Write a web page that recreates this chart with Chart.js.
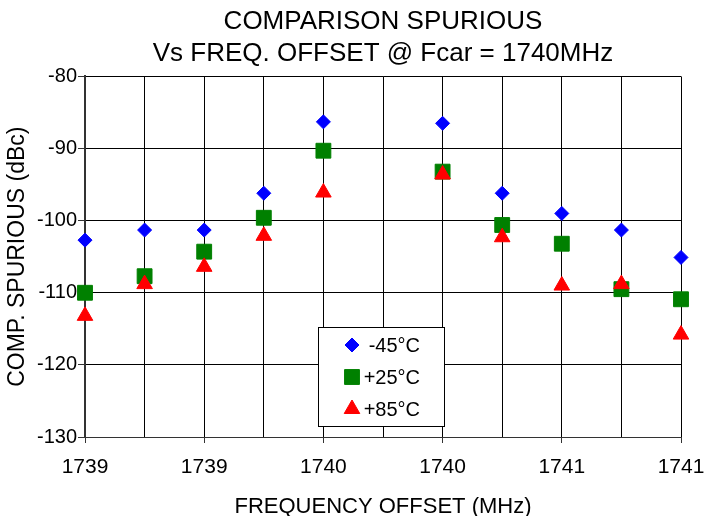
<!DOCTYPE html>
<html>
<head>
<meta charset="utf-8">
<script src="https://cdn.jsdelivr.net/npm/chart.js@4.4.1/dist/chart.umd.min.js"></script>
<style>
  body { margin: 0; background: #fff; }
  canvas { display: block; }
</style>
</head>
<body>
<canvas id="spurious-chart" width="705" height="516"></canvas>
<script>
/**************************************************************
                     COMPARISON SPURIOUS CHART
***************************************************************/
// no point at the carrier itself (1740.0)
let freqOffsets = [1739.0, 1739.2, 1739.4, 1739.6, 1739.8, 1740.2, 1740.4, 1740.6, 1740.8, 1741.0]
let spurMinus45 = [-102.7, -101.3, -101.3, -96.2, -86.3, -86.5, -96.2, -99.0, -101.3, -105.1]
let spurPlus25 = [-110.0, -107.7, -104.3, -99.6, -90.3, -93.2, -100.6, -103.2, -109.5, -110.9]
let spurPlus85 = [-113.2, -108.8, -106.4, -102.1, -96.1, -93.6, -102.3, -109.0, -108.8, -115.8]
let xTickLabels = ['1739', '1739', '1740', '1740', '1741', '1741']
let seriesLabels = ['-45°C', '+25°C', '+85°C']
let seriesColors = ['#0000ff', '#008000', '#ff0000']
let seriesStyles = ['rectRot', 'rect', 'triangle']
let seriesRadius = [7, 10.5, 9]

let dataPoints = [spurMinus45, spurPlus25, spurPlus85].map(function (series) {
    return series.map(function (v, i) { return { x: freqOffsets[i], y: v } })
})

let fontFamily = '"Liberation Sans", Arial, Helvetica, sans-serif'

/*** legend box drawn inside the plot area ***/
let insideLegend = {
    id: 'insideLegend',
    afterDraw: function (chart) {
        let ctx = chart.ctx
        let left = 318, top = 327, w = 126, h = 99
        ctx.save()
        ctx.fillStyle = '#fff'
        ctx.fillRect(left, top, w, h)
        ctx.strokeStyle = '#000'
        ctx.lineWidth = 1
        ctx.strokeRect(left + 0.5, top + 0.5, w, h)
        ctx.font = '20px ' + fontFamily
        ctx.textAlign = 'right'
        ctx.textBaseline = 'middle'
        chart.data.datasets.forEach(function (ds, i) {
            let rowY = top + 18 + i * 32
            ctx.fillStyle = ds.backgroundColor
            ctx.strokeStyle = ds.borderColor
            Chart.helpers.drawPoint(ctx, { pointStyle: ds.pointStyle, radius: ds.pointRadius, borderWidth: 1, rotation: 0 }, left + 34, rowY)
            ctx.fillStyle = '#000'
            ctx.fillText(ds.label, left + 102, rowY + 1)
        })
        ctx.restore()
    }
}

let spuriousChartCanvas = document.getElementById('spurious-chart').getContext('2d')
let spuriousChartConfig = {
    type: 'scatter',
    data: {
        datasets: seriesLabels.map(function (label, i) {
            return {
                label: label,
                data: dataPoints[i],
                // later series are painted over earlier ones
                order: seriesLabels.length - i,
                clip: false,
                pointStyle: seriesStyles[i],
                pointRadius: seriesRadius[i],
                pointHoverRadius: seriesRadius[i],
                backgroundColor: seriesColors[i],
                borderColor: seriesColors[i],
                borderWidth: 1,
                showLine: false
            }
        })
    },
    options: {
        responsive: false,
        animation: false,
        devicePixelRatio: 1,
        events: [],
        layout: { padding: { left: 0, right: 24, top: 0, bottom: 0 } },
        plugins: {
            legend: { display: false },
            tooltip: { enabled: false },
            title: {
                display: true,
                fullSize: false,
                text: ['COMPARISON SPURIOUS', 'Vs FREQ. OFFSET @ Fcar = 1740MHz'],
                color: '#000',
                font: { family: fontFamily, size: 26, weight: 'normal', lineHeight: 1.22 },
                padding: { top: 6, bottom: 7 }
            }
        },
        scales: {
            x: {
                type: 'linear',
                min: 1739,
                max: 1741,
                afterFit: function (scale) {
                    scale.height = 79
                    scale.paddingLeft = 0
                    scale.paddingRight = 0
                },
                ticks: {
                    stepSize: 0.2,
                    autoSkip: false,
                    maxRotation: 0,
                    padding: 12,
                    color: '#000',
                    font: { family: fontFamily, size: 21 },
                    callback: function (value, index) {
                        return index % 2 ? '' : xTickLabels[index / 2]
                    }
                },
                grid: {
                    color: '#000',
                    lineWidth: 1,
                    tickLength: 6,
                    tickColor: function (ctx) { return ctx.index % 2 ? 'rgba(0,0,0,0)' : '#333' }
                },
                border: { color: '#333', width: 1 },
                title: {
                    display: true,
                    text: 'FREQUENCY OFFSET (MHz)',
                    color: '#000',
                    font: { family: fontFamily, size: 22, lineHeight: 0.8 },
                    padding: { top: 0, bottom: 0 }
                }
            },
            y: {
                min: -130,
                max: -80,
                afterFit: function (scale) { scale.width = 85 },
                ticks: {
                    stepSize: 10,
                    padding: 1,
                    color: '#000',
                    font: { family: fontFamily, size: 20 }
                },
                grid: {
                    color: '#000',
                    lineWidth: 1,
                    tickLength: 7,
                    tickColor: '#333'
                },
                border: { color: '#333', width: 2 },
                title: {
                    display: true,
                    text: 'COMP. SPURIOUS (dBc)',
                    color: '#000',
                    font: { family: fontFamily, size: 23 },
                    padding: { top: 4, bottom: 0 }
                }
            }
        }
    },
    plugins: [insideLegend]
}

/*** Create new instance of chart using spurious canvas and config object ***/
let spuriousChart = new Chart(spuriousChartCanvas, spuriousChartConfig)
</script>
</body>
</html>
